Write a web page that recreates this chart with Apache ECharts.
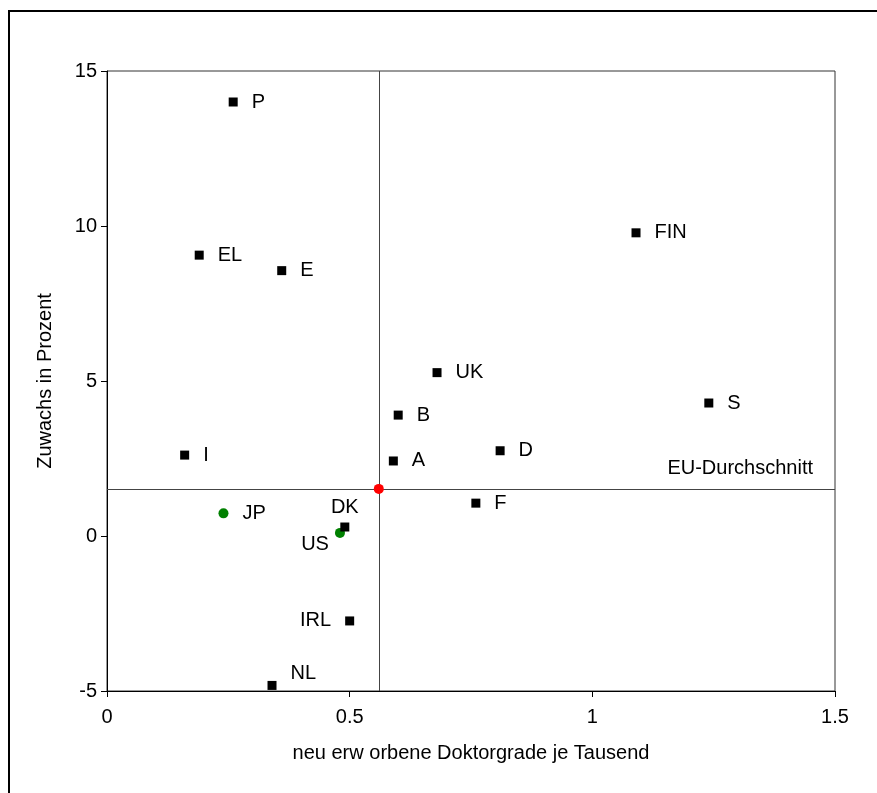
<!DOCTYPE html>
<html>
<head>
<meta charset="utf-8">
<script src="https://cdn.jsdelivr.net/npm/echarts@6/dist/echarts.min.js"></script>
<style>
html,body{margin:0;padding:0;background:#fff;}
#c{width:877px;height:793px;}
</style>
</head>
<body>
<div id="c"></div>
<script>
// EU member states
var euCountries = ['P','EL','E','FIN','UK','S','B','D','A','I','F','DK','IRL','NL'];
var euX = [0.26, 0.19, 0.36, 1.09, 0.68, 1.24, 0.60, 0.81, 0.59, 0.16, 0.76, 0.49, 0.50, 0.34];
var euY = [14.0, 9.06, 8.56, 9.78, 5.27, 4.29, 3.9, 2.75, 2.42, 2.61, 1.06, 0.29, -2.74, -4.82];
// Non-EU comparison countries
var otherCountries = ['JP','US'];
var otherX = [0.24, 0.48];
var otherY = [0.73, 0.1];
// EU average
var euAvgName = 'EU-Durchschnitt';
var euAvgX = 0.56;
var euAvgY = 1.52;
// Axes
var xTicks = [0, 0.5, 1, 1.5];
var yTicks = [-5, 0, 5, 10, 15];
var xTitle = 'neu erw orbene Doktorgrade je Tausend';
var yTitle = 'Zuwachs in Prozent';

// label placement style (not data)
var labelStyle = {
  DK: {position: 'top', distance: 5},
  US: {position: 'left', distance: 6, offset: [0, 12]},
  IRL: {position: 'left', distance: 14},
  NL: {position: 'right', distance: 14, offset: [0, -12]}
};
var FONT = '"Liberation Sans", Arial, sans-serif';

function buildData(names, xs, ys) {
  return names.map(function (n, i) {
    var d = {name: n, value: [xs[i], ys[i]]};
    if (labelStyle[n]) d.label = labelStyle[n];
    return d;
  });
}

var chart = echarts.init(document.getElementById('c'), null, {renderer: 'canvas'});
chart.setOption({
  animation: false,
  backgroundColor: '#fff',
  textStyle: {fontFamily: FONT},
  graphic: [{
    type: 'rect', z: -10,
    shape: {x: 9, y: 11, width: 900, height: 820},
    style: {fill: 'none', stroke: '#000', lineWidth: 2}
  }],
  grid: {left: 107, right: 42, top: 71, bottom: 102, show: true, borderColor: '#333', borderWidth: 1, backgroundColor: 'transparent'},
  xAxis: {
    type: 'value', min: xTicks[0], max: xTicks[xTicks.length - 1], interval: 0.5,
    name: xTitle, nameLocation: 'middle', nameGap: 52,
    nameTextStyle: {color: '#000', fontSize: 20, fontFamily: FONT},
    axisLine: {show: true, onZero: false, lineStyle: {color: '#000', width: 1}},
    axisTick: {show: true, inside: false, length: 6, lineStyle: {color: '#000'}},
    axisLabel: {color: '#000', fontSize: 20, margin: 16, fontFamily: FONT},
    splitLine: {show: false}
  },
  yAxis: {
    type: 'value', min: yTicks[0], max: yTicks[yTicks.length - 1], interval: 5,
    name: yTitle, nameLocation: 'middle', nameGap: 52,
    nameTextStyle: {color: '#000', fontSize: 20, fontFamily: FONT},
    axisLine: {show: true, onZero: false, lineStyle: {color: '#000', width: 1}},
    axisTick: {show: true, inside: false, length: 6, lineStyle: {color: '#000'}},
    axisLabel: {color: '#000', fontSize: 20, margin: 10, fontFamily: FONT},
    splitLine: {show: false}
  },
  series: [
    {
      name: 'EU', type: 'scatter', symbol: 'rect', symbolSize: 9, z: 4,
      itemStyle: {color: '#000', opacity: 1},
      label: {show: true, position: 'right', distance: 14, formatter: '{b}', color: '#000', fontSize: 20, fontFamily: FONT},
      data: buildData(euCountries, euX, euY)
    },
    {
      name: 'Andere', type: 'scatter', symbol: 'circle', symbolSize: 10, z: 3,
      itemStyle: {color: '#008000', opacity: 1},
      label: {show: true, position: 'right', distance: 14, formatter: '{b}', color: '#000', fontSize: 20, fontFamily: FONT},
      data: buildData(otherCountries, otherX, otherY)
    },
    {
      name: euAvgName, type: 'scatter', symbol: 'circle', symbolSize: 10, z: 5,
      itemStyle: {color: '#ff0000', opacity: 1},
      data: [[euAvgX, euAvgY]],
      markLine: {
        silent: true, symbol: 'none', animation: false,
        lineStyle: {color: '#444', width: 1, type: 'solid', opacity: 1},
        label: {show: false},
        emphasis: {disabled: true},
        data: [
          {xAxis: euAvgX},
          {yAxis: euAvgY, label: {show: true, position: 'insideEndTop', formatter: euAvgName, color: '#000', fontSize: 20, fontFamily: FONT, distance: [22, 10]}}
        ]
      }
    }
  ]
});
</script>
</body>
</html>
